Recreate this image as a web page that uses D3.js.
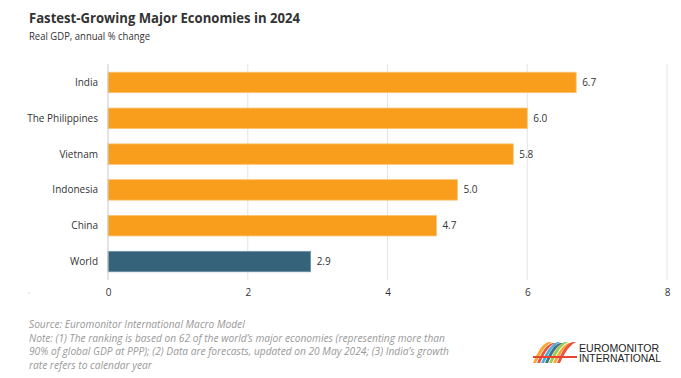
<!DOCTYPE html>
<html><head><meta charset="utf-8">
<script src="https://cdn.jsdelivr.net/npm/d3@7"></script>
<style>body{margin:0;background:#fff;font-family:"Open Sans","Noto Sans",sans-serif;}</style>
</head><body><svg id="c" width="681" height="378"></svg>
<script>
const categories = ["India","The Philippines","Vietnam","Indonesia","China","World"];
const values = [6.7,6.0,5.8,5.0,4.7,2.9];
const valueLabels = ["6.7","6.0","5.8","5.0","4.7","2.9"];
const xTicks = [0,2,4,6,8];

const svg = d3.select("#c");
const x = d3.scaleLinear().domain([0,8]).range([108,667]);
const y = d3.scaleBand().domain(categories).range([64,280]).paddingInner(0.43).paddingOuter(0.23);

svg.append("text").attr("x",29).attr("y",23).attr("font-size",15).attr("font-weight",700).attr("fill","#333").attr("textLength",271).attr("lengthAdjust","spacingAndGlyphs").text("Fastest-Growing Major Economies in 2024");
svg.append("text").attr("x",29).attr("y",40).attr("font-size",10).attr("fill","#333").attr("textLength",121).attr("lengthAdjust","spacingAndGlyphs").text("Real GDP, annual % change");

// gridlines
svg.append("g").selectAll("line").data(xTicks.filter(d=>d>0)).join("line")
 .attr("x1",d=>x(d)).attr("x2",d=>x(d)).attr("y1",64).attr("y2",280)
 .attr("stroke","#e4e4e4").attr("stroke-width",1);

// bars
svg.append("g").selectAll("rect").data(categories).join("rect")
 .attr("x",x(0)).attr("y",d=>y(d)).attr("height",y.bandwidth())
 .attr("width",(d,i)=>x(values[i])-x(0))
 .attr("fill",d=>d==="World"?"#34637A":"#F99D1C")
 .attr("stroke",d=>d==="World"?"#6f93a5":"#fbc16e").attr("stroke-width",0.8);

// axis line
svg.append("line").attr("x1",x(0)).attr("x2",x(0)).attr("y1",64).attr("y2",280).attr("stroke","#c8c8c8").attr("stroke-width",1);

// category labels
svg.append("g").selectAll("text").data(categories).join("text")
 .attr("x",98).attr("y",d=>y(d)+y.bandwidth()/2).attr("dy","0.35em")
 .attr("text-anchor","end").attr("font-size",10).attr("fill","#333").text(d=>d);

// value labels
svg.append("g").selectAll("text").data(categories).join("text")
 .attr("x",(d,i)=>x(values[i])+6).attr("y",d=>y(d)+y.bandwidth()/2).attr("dy","0.35em")
 .attr("font-size",10).attr("fill","#333").text((d,i)=>valueLabels[i]);

// x axis
const ax = svg.append("g").attr("transform","translate(0,286)")
 .call(d3.axisBottom(x).tickValues(xTicks).tickSize(0).tickFormat(d3.format("d")));
ax.select(".domain").remove();
ax.selectAll("text").attr("font-size",10).attr("fill","#333").attr("font-family","'Open Sans','Noto Sans',sans-serif");
svg.append("circle").attr("cx",29).attr("cy",293).attr("r",0.6).attr("fill","#c99");

// footer
const notes = ["Source: Euromonitor International Macro Model",
"Note: (1) The ranking is based on 62 of the world’s major economies (representing more than",
"90% of global GDP at PPP); (2) Data are forecasts, updated on 20 May 2024; (3) India’s growth",
"rate refers to calendar year"];
svg.append("g").selectAll("text").data(notes).join("text")
 .attr("x",29).attr("y",(d,i)=>328+i*13.6).attr("font-size",10.2).attr("font-style","italic").attr("fill","#999").text(d=>d);

// logo
const lg = svg.append("g").attr("transform","translate(533,341)");
const stripes = [["#F99D1C",0],["#E8432E",4],["#2FA4D9",8],["#34637A",12],["#8DC63F",16],["#F99D1C",20],["#E8432E",24]];
stripes.forEach(([c,o],i)=>{
  lg.append("path").attr("d",`M${o} 22 Q${o+8} ${2+i%3} ${o+16} ${1+i%2} L${o+19} ${1+i%2} Q${o+11} ${4} ${o+3} 22 Z`).attr("fill",c).attr("opacity",0.9);
});
lg.append("rect").attr("x",0).attr("y",15).attr("width",44).attr("height",2).attr("fill","#E8432E");
svg.append("text").attr("x",579).attr("y",351.5).attr("font-size",10).attr("font-family","'Liberation Sans Narrow','Liberation Sans',sans-serif").attr("fill","#222").attr("textLength",80).attr("lengthAdjust","spacingAndGlyphs").text("EUROMONITOR");
svg.append("text").attr("x",579).attr("y",362).attr("font-size",10).attr("font-family","'Liberation Sans Narrow','Liberation Sans',sans-serif").attr("fill","#222").attr("textLength",82).attr("lengthAdjust","spacingAndGlyphs").text("INTERNATIONAL");
</script></body></html>
